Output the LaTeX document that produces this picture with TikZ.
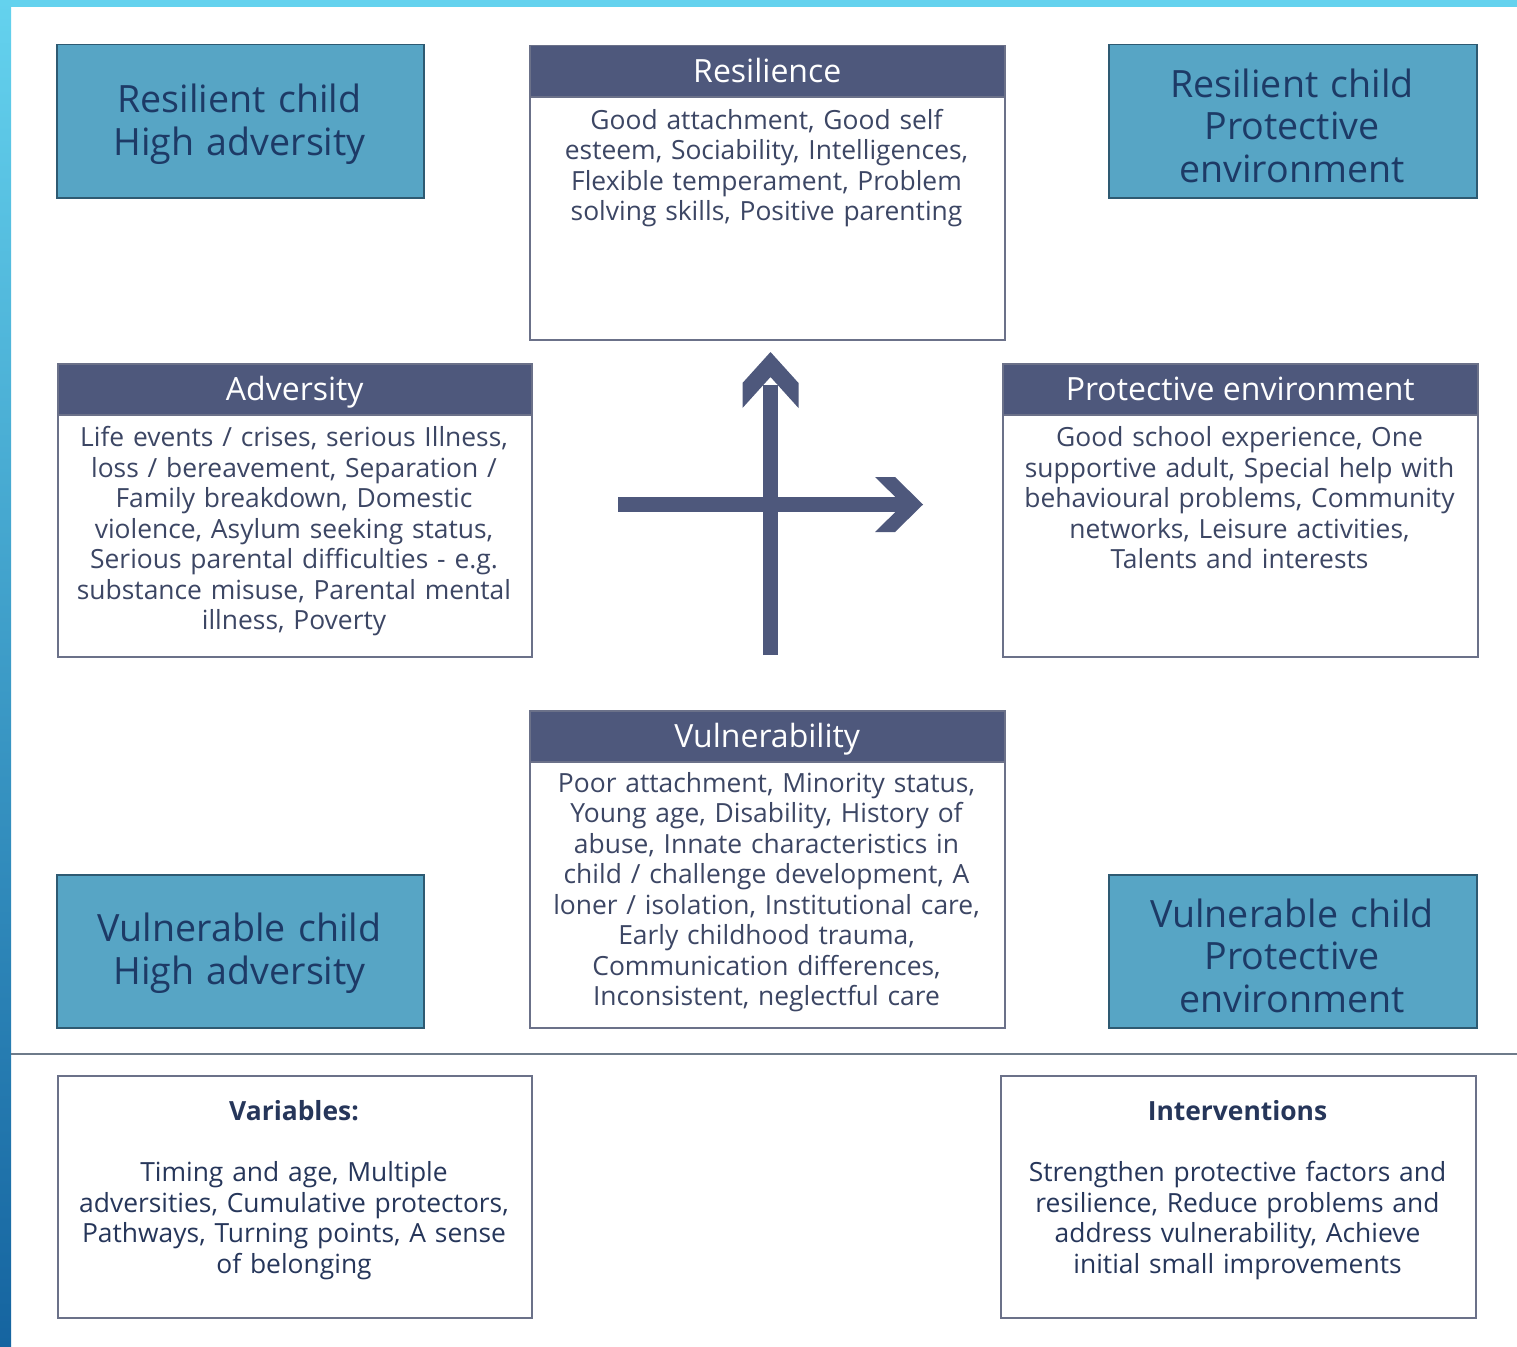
\documentclass[tikz,border=0pt]{standalone}
\usepackage{fontspec}
\setmainfont{Open Sans}

\definecolor{bandcyan}{HTML}{64D2EE}
\definecolor{banddeep}{HTML}{1564A0}
\definecolor{quadfill}{HTML}{57A5C5}
\definecolor{quadedge}{HTML}{2E5A72}
\definecolor{quadink}{HTML}{1D3A66}
\definecolor{headfill}{HTML}{4E587C}
\definecolor{paneledge}{HTML}{6B7189}
\definecolor{bodyink}{HTML}{3C4664}
\definecolor{noteink}{HTML}{26365A}
\definecolor{rulecol}{HTML}{6E7B8A}

\begin{document}
\begin{tikzpicture}[x=1pt,y=-1pt,
  quadbox/.style={draw=quadedge, fill=quadfill, line width=1.5pt, inner sep=0pt,
    anchor=north west, minimum width=367pt, minimum height=153pt},
  quadtext/.style={anchor=base, inner sep=0pt, text width=360pt, align=center,
    text=quadink, font=\fontsize{37.6}{42.5}\selectfont},
  panel/.style={draw=paneledge, fill=white, line width=1.5pt, inner sep=0pt,
    anchor=north west, minimum width=475pt},
  headbar/.style={draw=paneledge, fill=headfill, line width=1.5pt, inner sep=0pt,
    anchor=north west, minimum width=475pt, minimum height=51pt,
    text height=23pt, text depth=0pt, text=white,
    font=\fontsize{32}{38}\selectfont},
  bodytext/.style={anchor=base, inner sep=0pt, text width=468pt, align=center,
    text=bodyink, font=\fontsize{26.4}{30.5}\selectfont},
  notetext/.style={bodytext, text=noteink},
  shaft/.style={draw=headfill, line width=15pt, line cap=butt},
  arrowhead/.style={fill=headfill}
]
\useasboundingbox (0,0) rectangle (1517,1346);
\fill[white] (0,0) rectangle (1517,1346);

% coloured frame along the top and left edges
\fill[bandcyan] (0,0) rectangle (1517,7);
\shade[top color=bandcyan, bottom color=banddeep] (0,0) rectangle (11,1346);

% separator between the diagram and the notes
\coordinate (ruleL) at (11,1054);
\coordinate (ruleR) at (1517,1054);
\draw[rulecol, line width=1.5pt] (ruleL) -- (ruleR);

% corner quadrant boxes
\node[quadbox] (rah) at (56,44) {};
\node[quadtext] (rahT) at (239.5,112.5) {Resilient child\\High adversity};

\node[quadbox, minimum width=368pt] (rpe) at (1108,44) {};
\node[quadtext] (rpeT) at (1292,97) {Resilient child\\Protective\\environment};

\node[quadbox] (vah) at (56,874) {};
\node[quadtext] (vahT) at (239.5,941.5) {Vulnerable child\\High adversity};

\node[quadbox, minimum width=368pt] (vpe) at (1108,874) {};
\node[quadtext] (vpeT) at (1292,927) {Vulnerable child\\Protective\\environment};

% Resilience panel
\node[panel, minimum height=294pt] (res) at (529,45) {};
\node[headbar] (resH) at (529,45) {Resilience};
\node[bodytext] (resB) at (766.5,129) {Good attachment, Good self\\
esteem, Sociability, Intelligences,\\
Flexible temperament, Problem\\
solving skills, Positive parenting};

% Adversity panel
\node[panel, minimum width=474pt, minimum height=293pt] (adv) at (57,363) {};
\node[headbar, minimum width=474pt] (advH) at (57,363) {Adversity};
\node[bodytext] (advB) at (294,446.5) {Life events / crises, serious Illness,\\
loss / bereavement, Separation /\\
Family breakdown, Domestic\\
violence, Asylum seeking status,\\
Serious parental difficulties - e.g.\\
substance misuse, Parental mental\\
illness, Poverty};

% Protective environment panel
\node[panel, minimum height=293pt] (pro) at (1002,363) {};
\node[headbar] (proH) at (1002,363) {Protective environment};
\node[bodytext] (proB) at (1239.5,446.5) {Good school experience, One\\
supportive adult, Special help with\\
behavioural problems, Community\\
networks, Leisure activities,\\
Talents and interests};

% Vulnerability panel
\node[panel, minimum height=317pt] (vul) at (529,710) {};
\node[headbar] (vulH) at (529,710) {Vulnerability};
\node[bodytext] (vulB) at (766.5,792) {Poor attachment, Minority status,\\
Young age, Disability, History of\\
abuse, Innate characteristics in\\
child / challenge development, A\\
loner / isolation, Institutional care,\\
Early childhood trauma,\\
Communication differences,\\
Inconsistent, neglectful care};

% crossing axes
\coordinate (hfoot) at (618,504.5);
\coordinate (hneck) at (905,504.5);
\coordinate (vfoot) at (770.5,655);
\coordinate (vneck) at (770.5,385);
\draw[shaft] (hfoot) -- (hneck);
\fill[arrowhead] (923,504.5) -- (895,477) -- (875,477) -- (903,504.5)
  -- (875,532) -- (895,532) -- cycle;
\draw[shaft] (vfoot) -- (vneck);
\fill[arrowhead] (770.5,352) -- (798.5,383) -- (798.5,408) -- (770.5,377)
  -- (742.5,408) -- (742.5,383) -- cycle;

% notes below the rule
\node[panel, minimum width=474pt, minimum height=242pt] (var) at (57,1075) {};
\node[notetext] (varT) at (294,1120.5) {\textbf{Variables:}\\[30.5pt]
Timing and age, Multiple\\
adversities, Cumulative protectors,\\
Pathways, Turning points, A sense\\
of belonging};

\node[panel, minimum height=242pt] (int) at (1000,1075) {};
\node[notetext] (intT) at (1237.5,1120.5) {\textbf{Interventions}\\[30.5pt]
Strengthen protective factors and\\
resilience, Reduce problems and\\
address vulnerability, Achieve\\
initial small improvements};
\end{tikzpicture}
\end{document}
